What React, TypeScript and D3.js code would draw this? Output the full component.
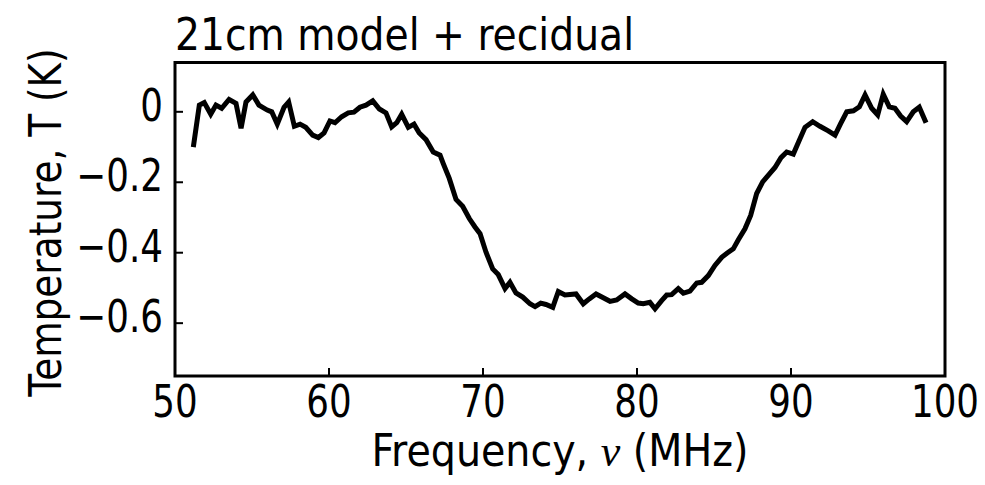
import React from "react";
import * as d3 from "d3";

const freqs = [51.19,51.58,51.90,52.32,52.66,53.03,53.51,53.96,54.29,54.61,55.05,55.45,55.99,56.28,56.64,57.08,57.38,57.75,58.12,58.49,58.94,59.31,59.68,60.06,60.39,60.82,61.25,61.62,62.01,62.40,62.84,63.27,63.70,64.07,64.40,64.72,65.15,65.52,65.86,66.30,66.77,67.21,67.42,67.81,68.25,68.68,69.11,69.48,69.81,70.19,70.63,70.99,71.43,71.75,72.14,72.58,73.05,73.38,73.75,74.09,74.53,74.89,75.32,76.04,76.51,76.90,77.34,77.81,78.25,78.68,79.22,79.66,80.08,80.41,80.84,81.17,81.60,81.93,82.25,82.68,83.01,83.44,83.88,84.20,84.63,85.06,85.50,85.86,86.25,86.58,87.01,87.38,87.77,88.16,88.59,88.96,89.35,89.72,90.15,90.54,90.91,91.41,91.88,92.42,92.86,93.23,93.62,94.05,94.44,94.81,95.24,95.63,95.99,96.38,96.75,97.12,97.51,97.94,98.33,98.77];
const temps = [-0.100,0.019,0.026,-0.007,0.019,0.010,0.035,0.024,-0.047,0.028,0.048,0.019,0.005,0.000,-0.035,0.013,0.028,-0.041,-0.035,-0.044,-0.066,-0.073,-0.060,-0.026,-0.031,-0.014,-0.003,-0.001,0.013,0.019,0.031,0.008,-0.003,-0.043,-0.031,-0.007,-0.044,-0.035,-0.060,-0.079,-0.114,-0.123,-0.147,-0.189,-0.249,-0.268,-0.303,-0.327,-0.346,-0.398,-0.446,-0.462,-0.502,-0.484,-0.514,-0.526,-0.545,-0.553,-0.543,-0.547,-0.555,-0.510,-0.520,-0.517,-0.545,-0.531,-0.517,-0.528,-0.538,-0.534,-0.517,-0.531,-0.543,-0.545,-0.541,-0.559,-0.536,-0.520,-0.519,-0.502,-0.515,-0.509,-0.486,-0.484,-0.465,-0.436,-0.413,-0.401,-0.389,-0.363,-0.332,-0.294,-0.232,-0.199,-0.177,-0.158,-0.130,-0.114,-0.120,-0.081,-0.044,-0.028,-0.041,-0.054,-0.066,-0.033,0.000,0.003,0.014,0.048,0.010,-0.009,0.050,0.014,0.010,-0.012,-0.028,0.000,0.013,-0.031];
const xTicks = [50, 60, 70, 80, 90, 100];
const yTicks = [0, -0.2, -0.4, -0.6];
const yTickLabels = ["0", "\u22120.2", "\u22120.4", "\u22120.6"];
const title = "21cm model + recidual";

const FONT = "'DejaVu Sans Condensed', 'Liberation Sans Narrow', 'Liberation Sans', sans-serif";

export default function App() {
  const W = 985, H = 485;
  const left = 175, right = 945, top = 62.5, bottom = 376;
  const x = d3.scaleLinear().domain([50, 100]).range([left, right]);
  const y = d3.scaleLinear().domain([-0.75, 0.14]).range([bottom, top]);
  const data = freqs.map((f, i) => [f, temps[i]] as [number, number]);
  const line = d3.line<[number, number]>().x(d => x(d[0])).y(d => y(d[1]));
  return (
    <svg width={W} height={H} style={{ position: "absolute", left: 0, top: 0, background: "#fff" }}>
      <rect x={0} y={0} width={W} height={H} fill="#fff" />
      <g transform={`translate(${left},50) scale(0.97,1)`}>
        <text x={0} y={0} fontFamily={FONT} fontSize={45}>{title}</text>
      </g>
      <path d={line(data) || ""} fill="none" stroke="#000" strokeWidth={5} strokeLinejoin="miter" />
      {xTicks.map(t => (
        <g key={"x" + t}>
          <line x1={x(t)} x2={x(t)} y1={bottom} y2={bottom - 8} stroke="#000" strokeWidth={2} />
          <g transform={`translate(${x(t)},417) scale(0.9,1)`}>
            <text x={0} y={0} textAnchor="middle" fontFamily={FONT} fontSize={44}>{t}</text>
          </g>
        </g>
      ))}
      {yTicks.map((t, i) => (
        <g key={"y" + t}>
          <line x1={left} x2={left + 8} y1={y(t)} y2={y(t)} stroke="#000" strokeWidth={2} />
          <g transform={`translate(163,${y(t) + 9}) scale(0.88,1)`}>
            <text x={0} y={0} textAnchor="end" fontFamily={FONT} fontSize={45}>{yTickLabels[i]}</text>
          </g>
        </g>
      ))}
      <rect x={left} y={top} width={right - left} height={bottom - top} fill="none" stroke="#000" strokeWidth={3} />
      <text x={560} y={466} textAnchor="middle" fontFamily={FONT} fontSize={44}>
        Frequency, <tspan fontFamily="'Liberation Serif', 'DejaVu Serif', serif" fontStyle="italic">ν</tspan> (MHz)
      </text>
      <g transform={`translate(61, 222.5) rotate(-90) scale(0.945,1)`}>
        <text x={0} y={0} textAnchor="middle" fontFamily={FONT} fontSize={44}>
          Temperature, T (K)
        </text>
      </g>
    </svg>
  );
}
